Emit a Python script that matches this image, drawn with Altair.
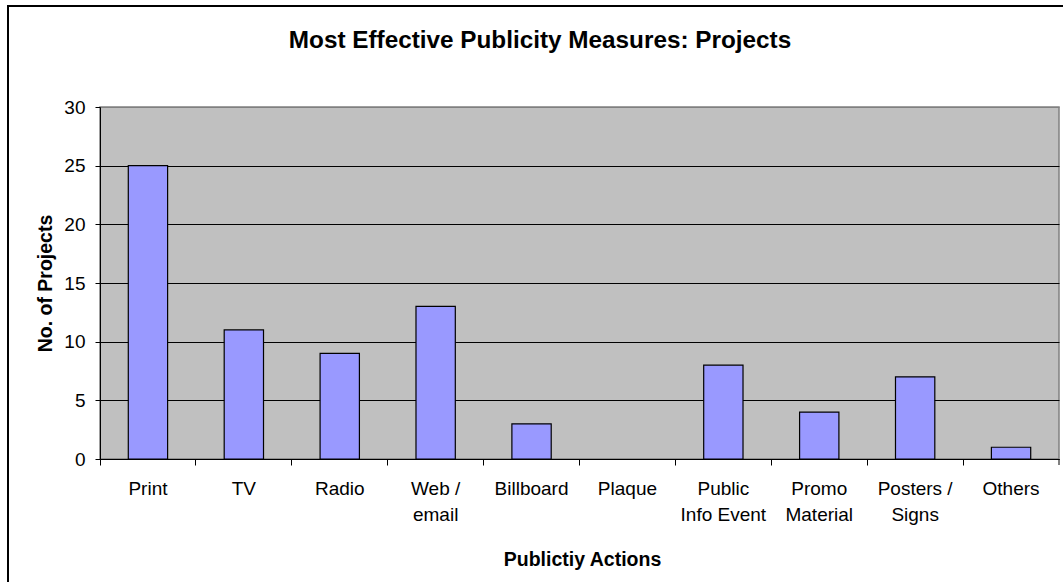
import altair as alt
import pandas as pd

# Publicity actions (line breaks mark the two-line axis labels) and project counts
actions = [
    "Print", "TV", "Radio", "Web /\nemail", "Billboard", "Plaque",
    "Public\nInfo Event", "Promo\nMaterial", "Posters /\nSigns", "Others",
]
projects = [25, 11, 9, 13, 3, 0, 8, 4, 7, 1]

df = pd.DataFrame({"action": actions, "projects": projects})

FONT = "Liberation Sans"
W, H = 959, 352

bars = alt.Chart(df).mark_bar(
    color="#9999FF", stroke="black", strokeWidth=1.2,
    width=alt.RelativeBandSize(0.41),
).encode(
    x=alt.X(
        "action:N", sort=actions,
        scale=alt.Scale(paddingInner=0, paddingOuter=0),
        axis=alt.Axis(
            title="Publictiy Actions", labelAngle=0,
            labelExpr="split(datum.value, '\\n')",
            labelFont=FONT, labelFontSize=19, labelColor="black",
            labelLineHeight=26, labelPadding=14, labelBaseline="top",
            bandPosition=0, ticks=True, tickSize=6, tickColor="black",
            domainColor="black", grid=False,
            titleFont=FONT, titleFontSize=19.5, titleFontWeight="bold",
            titleColor="black", titleBaseline="alphabetic",
            titleX=482, titleY=106, titleAlign="center",
        ),
    ),
    y=alt.Y(
        "projects:Q",
        scale=alt.Scale(domain=[0, 30], nice=False),
        axis=alt.Axis(
            title="No. of Projects", values=[0, 5, 10, 15, 20, 25, 30],
            labelFont=FONT, labelFontSize=19, labelColor="black",
            labelPadding=10, tickSize=5, tickColor="black",
            domainColor="black", grid=True,
            gridColor=alt.condition("datum.value == 30",
                                    alt.value("#808080"), alt.value("black")),
            gridWidth=1,
            titleFont=FONT, titleFontSize=19.5, titleFontWeight="bold",
            titleColor="black", titleAngle=-90, titleBaseline="alphabetic",
            titleAlign="center", titleX=-49, titleY=H / 2,
        ),
    ),
    strokeOpacity=alt.condition("datum.projects == 0", alt.value(0), alt.value(1)),
)

one = pd.DataFrame({"k": [0]})

# Closing tick at the right end of the category axis
end_tick = alt.Chart(one).mark_rule(color="black", strokeWidth=1).encode(
    x=alt.value(W), y=alt.value(H), y2=alt.value(H + 6),
)

# Chart heading
heading = alt.Chart(one).mark_text(
    text="Most Effective Publicity Measures: Projects",
    font=FONT, fontSize=24.3, fontWeight="bold", color="black",
    align="center", baseline="alphabetic",
).encode(x=alt.value(440), y=alt.value(-59))

# Chart-area frame drawn around the whole figure
frame = alt.Chart(one).mark_rect(
    fill=None, stroke="black", strokeWidth=2
).encode(
    x=alt.value(-92), y=alt.value(-101),
    x2=alt.value(1000), y2=alt.value(520),
)

chart = alt.layer(bars, end_tick, heading, frame).properties(
    width=W, height=H,
    autosize=alt.AutoSizeParams(type="none"),
    padding={"left": 100, "top": 107, "right": 4, "bottom": 123},
    background="white",
).configure_view(
    fill="#C0C0C0", stroke="#808080", strokeWidth=1.5,
)

chart.save("out.html", embed_options={"renderer": "svg", "actions": False})
